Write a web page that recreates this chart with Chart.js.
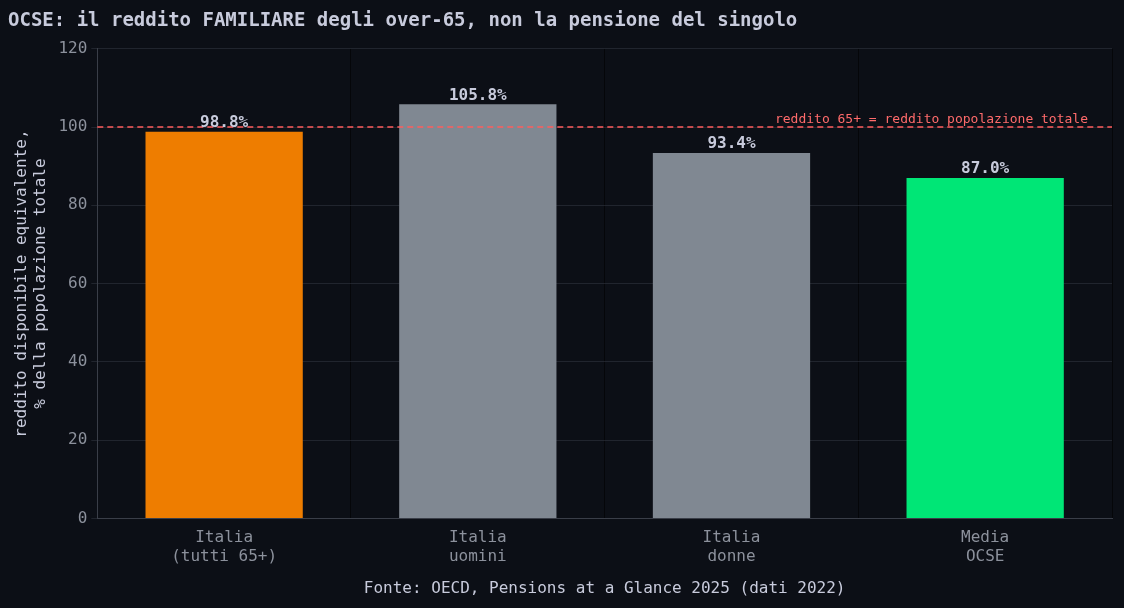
<!DOCTYPE html>
<html><head><meta charset="utf-8">
<script src="https://cdn.jsdelivr.net/npm/chart.js@4"></script>
<style>html,body{margin:0;background:#0c0f16;}#w{width:1124px;height:608px;}</style>
</head><body><div id="w"><canvas id="c"></canvas></div>
<script>
const categories = [["Italia","(tutti 65+)"],["Italia","uomini"],["Italia","donne"],["Media","OCSE"]];
const values = [98.8, 105.8, 93.4, 87.0];
const barColors = ["#ee7d00","#808892","#808892","#00e676"];
const refValue = 100;
const yTicks = [0,20,40,60,80,100,120];
const F = "'DejaVu Sans Mono', monospace";
const overlay = {
  id:'overlay',
  afterDatasetsDraw(ch){
    const {ctx, scales:{x,y}, chartArea:a} = ch;
    ctx.save();
    const yy = y.getPixelForValue(refValue);
    ctx.strokeStyle='#ff5c5c'; ctx.lineWidth=1.6; ctx.setLineDash([6,4]);
    ctx.beginPath(); ctx.moveTo(a.left,yy); ctx.lineTo(a.right,yy); ctx.stroke();
    ctx.setLineDash([]);
    ctx.fillStyle='#ff6b6b'; ctx.font="13px "+F; ctx.textAlign='right'; ctx.textBaseline='bottom';
    ctx.fillText('reddito 65+ = reddito popolazione totale', a.right-24, yy-1);
    ctx.fillStyle='#c8cbdc'; ctx.font="bold 16px "+F; ctx.textAlign='center';
    const m = ch.getDatasetMeta(0);
    m.data.forEach((b,i)=>ctx.fillText(values[i].toFixed(1)+'%', b.x, b.y-1));
    ctx.restore();
  }
};
new Chart(document.getElementById('c'),{
  type:'bar',
  data:{labels:categories,datasets:[{data:values,backgroundColor:barColors,barPercentage:0.62,categoryPercentage:1}]},
  options:{
    responsive:true,maintainAspectRatio:false,animation:false,
    layout:{padding:{left:8,right:12,top:8,bottom:6}},
    plugins:{legend:{display:false},tooltip:{enabled:false},
      title:{display:true,text:'OCSE: il reddito FAMILIARE degli over-65, non la pensione del singolo',align:'start',color:'#c8cbdc',font:{family:F,size:19,weight:'bold'},padding:{top:2,bottom:16}}},
    scales:{
      x:{z:1,grid:{color:'rgba(0,0,0,0.55)',drawTicks:false},border:{color:'#3a3e48'},
        ticks:{color:'#8c919c',font:{family:F,size:16},padding:10},
        title:{display:true,text:'Fonte: OECD, Pensions at a Glance 2025 (dati 2022)',color:'#c8cbdc',font:{family:F,size:16},padding:{top:2}}},
      y:{z:1,min:0,max:120,afterBuildTicks(s){s.ticks=yTicks.map(v=>({value:v}));},
        grid:{color:'rgba(60,65,75,0.45)',drawTicks:true,tickLength:6},border:{color:'#3a3e48'},
        ticks:{color:'#8c919c',font:{family:F,size:16},padding:4},
        title:{display:true,text:['reddito disponibile equivalente,','% della popolazione totale'],color:'#c8cbdc',font:{family:F,size:16},padding:{bottom:4}}}
    }
  },
  plugins:[overlay]
});
</script></body></html>
